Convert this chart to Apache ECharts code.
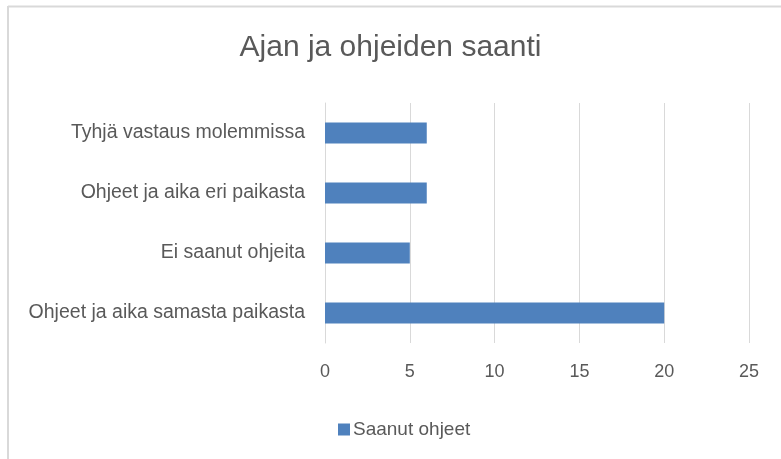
<!DOCTYPE html>
<html>
<head>
<meta charset="utf-8">
<script src="https://cdn.jsdelivr.net/npm/echarts@6/dist/echarts.min.js"></script>
<style>html,body{margin:0;padding:0;background:#fff}#c{width:781px;height:459px}</style>
</head>
<body>
<div id="c"></div>
<script>
const categories = ["Ohjeet ja aika samasta paikasta", "Ei saanut ohjeita", "Ohjeet ja aika eri paikasta", "Tyhjä vastaus molemmissa"];
const values = [20, 5, 6, 6];
const seriesName = "Saanut ohjeet";
const titleText = "Ajan ja ohjeiden saanti";
const xMin = 0, xMax = 25, xStep = 5;

const FONT = '"Liberation Sans", Arial, sans-serif';
const chart = echarts.init(document.getElementById('c'), null, {renderer: 'canvas'});
chart.setOption({
  animation: false,
  backgroundColor: '#fff',
  title: {
    text: titleText, left: 'center', top: 28,
    textStyle: {fontFamily: FONT, fontWeight: 'normal', fontSize: 30, color: '#595959'}
  },
  legend: {
    data: [seriesName], left: 333, top: 415, itemWidth: 12, itemHeight: 12, itemGap: 4,
    icon: 'rect',
    textStyle: {fontFamily: FONT, fontSize: 19, color: '#595959', padding: [0,0,0,-2]}
  },
  grid: {left: 325, right: 32, top: 103, bottom: 116, containLabel: false},
  xAxis: {
    type: 'value', min: xMin, max: xMax, interval: xStep,
    axisLine: {show: false}, axisTick: {show: false},
    splitLine: {show: true, lineStyle: {color: '#d9d9d9', width: 1}},
    axisLabel: {fontFamily: FONT, fontSize: 18, color: '#595959', margin: 20}
  },
  yAxis: {
    type: 'category', data: categories,
    axisLine: {show: true, lineStyle: {color: '#d9d9d9', width: 1}},
    axisTick: {show: false},
    axisLabel: {fontFamily: FONT, fontSize: 19.5, color: '#595959', margin: 20}
  },
  series: [{
    name: seriesName, type: 'bar', data: values, barWidth: '35%',
    itemStyle: {color: '#4f81bd'}
  }],
  graphic: [
    {type: 'line', shape: {x1: 8, y1: 6.5, x2: 781, y2: 6.5}, style: {stroke: '#d9d9d9', lineWidth: 2}, silent: true},
    {type: 'line', shape: {x1: 8, y1: 6, x2: 8, y2: 459}, style: {stroke: '#d9d9d9', lineWidth: 2}, silent: true}
  ]
});
</script>
</body>
</html>
